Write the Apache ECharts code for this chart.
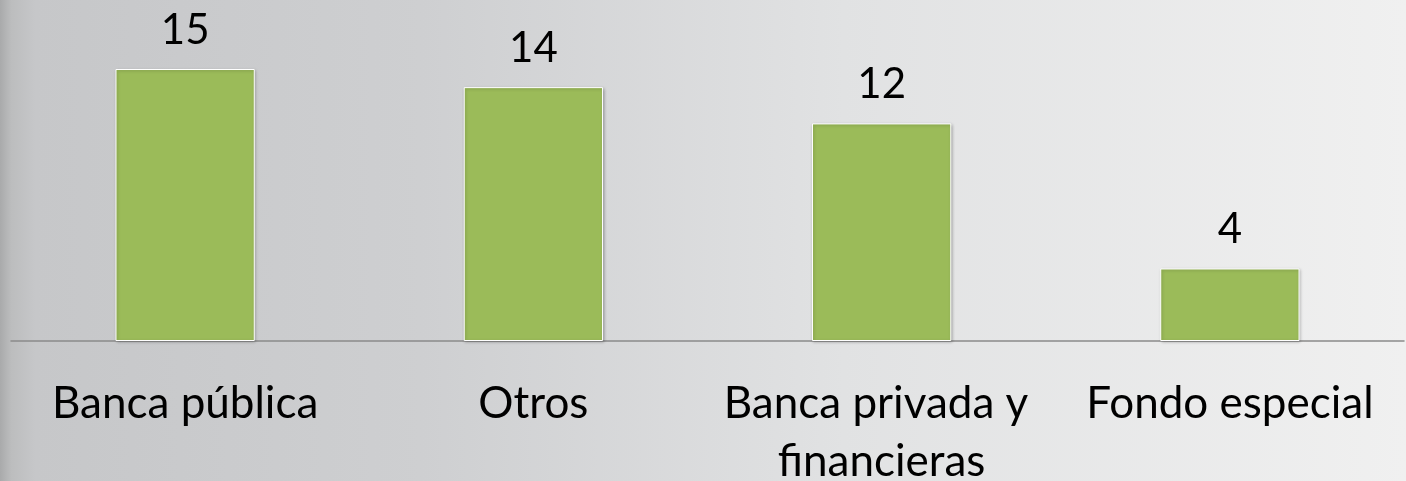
<!DOCTYPE html>
<html>
<head>
<meta charset="utf-8">
<script src="https://cdn.jsdelivr.net/npm/echarts@6/dist/echarts.min.js"></script>
<style>
html,body{margin:0;padding:0;}
#chart{width:1406px;height:481px;}
</style>
</head>
<body>
<div id="chart"></div>
<script>
const categories = ['Banca pública', 'Otros', 'Banca privada y financieras', 'Fondo especial'];
const values = [15, 14, 12, 4];

const chart = echarts.init(document.getElementById('chart'));
chart.setOption({
  animation: false,
  backgroundColor: {
    type: 'linear', x: 0, y: 0, x2: 1, y2: 0,
    colorStops: [
      {offset: 0, color: '#a9aaab'},
      {offset: 0.008, color: '#bcbdbe'},
      {offset: 0.025, color: '#c6c7c9'},
      {offset: 0.3, color: '#cecfd1'},
      {offset: 0.6, color: '#e1e2e3'},
      {offset: 1, color: '#f0f0f0'}
    ]
  },
  grid: {left: 11, right: 2, top: 69, bottom: 140, containLabel: false, outerBoundsMode: 'none'},
  xAxis: {
    type: 'category',
    data: categories,
    axisLine: {lineStyle: {color: '#8a8a8a', width: 1.5}},
    axisTick: {show: false},
    axisLabel: {
      color: '#000',
      fontFamily: 'Lato',
      fontSize: 44,
      lineHeight: 58,
      margin: 34,
      width: 330,
      overflow: 'break',
      interval: 0
    }
  },
  yAxis: {
    type: 'value', min: 0, max: 15,
    show: false,
    splitLine: {show: false}
  },
  series: [{
    type: 'bar',
    data: values,
    barWidth: '40%',
    itemStyle: {
      color: '#9bbb59',
      borderColor: '#ffffff',
      borderWidth: 1,
      shadowColor: 'rgba(0,0,0,0.25)',
      shadowBlur: 3,
      shadowOffsetX: 1,
      shadowOffsetY: 1
    },
    label: {
      show: true,
      position: 'top',
      distance: 18,
      color: '#000',
      fontFamily: 'Lato',
      fontSize: 42
    }
  }]
});
</script>
</body>
</html>
